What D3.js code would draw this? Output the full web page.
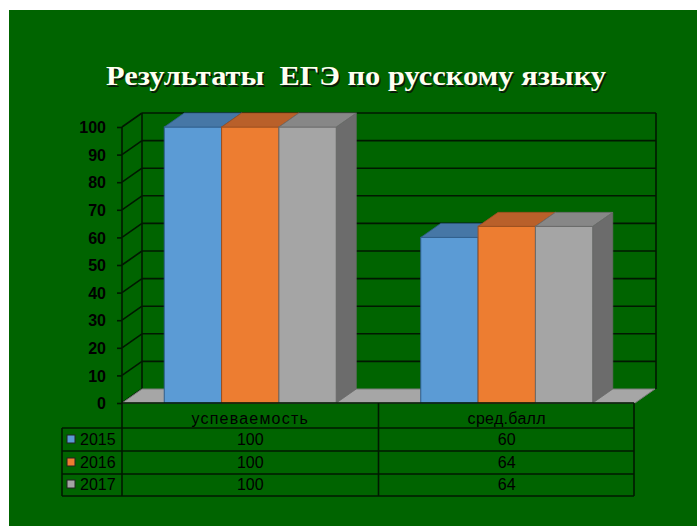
<!DOCTYPE html>
<html><head><meta charset="utf-8">
<script src="https://cdn.jsdelivr.net/npm/d3@7"></script>
<style>html,body{margin:0;padding:0;background:#fff;}svg{display:block;}
.ttl{font-family:"Liberation Serif","Times New Roman",serif;font-weight:bold;font-size:28px;white-space:pre;}
</style>
</head><body>
<svg id="c" width="697" height="526"></svg>
<script>
const categories = ["успеваемость", "сред.балл"];
const years = ["2015", "2016", "2017"];
const values2015 = [100, 60];
const values2016 = [100, 64];
const values2017 = [100, 64];
const yTicks = [0, 10, 20, 30, 40, 50, 60, 70, 80, 90, 100];
const chartTitle = "Результаты  ЕГЭ по русскому языку";

const series = [
  {name: years[0], values: values2015, front: "#5b9bd5", topc: "#4677a6", side: "#3d6a94", stroke: "#2f5d8a"},
  {name: years[1], values: values2016, front: "#ed7d31", topc: "#b9602a", side: "#a35424", stroke: "#9c4f1f"},
  {name: years[2], values: values2017, front: "#a5a5a5", topc: "#878787", side: "#6c6c6c", stroke: "#6a6a6a"}
];

(function () {
const svg = d3.select("#c");
svg.append("rect").attr("x", 9).attr("y", 10).attr("width", 697 - 9).attr("height", 526 - 10).attr("fill", "#006400");

const pLeft = 122, pRight = 635, pBottom = 403, pTop = 127;
const dx = 20, dy = -14;
const y = d3.scaleLinear().domain([0, 100]).range([pBottom, pTop]);
const x0 = d3.scaleBand().domain(categories).range([pLeft, pRight]).paddingInner(0).paddingOuter(0);
const x1 = d3.scaleBand().domain(years).range([0, x0.bandwidth()]).paddingInner(0).paddingOuter(0.737);
const pts = arr => arr.map(p => p.join(",")).join(" ");

const lineCol = "#011801";
const g = svg.append("g");
g.selectAll("line.grid").data(yTicks.filter(d => d > 0)).join("line")
  .attr("x1", pLeft + dx).attr("x2", pRight + dx + 1)
  .attr("y1", d => y(d) + dy).attr("y2", d => y(d) + dy)
  .attr("stroke", lineCol).attr("stroke-width", 1.6);
g.append("line").attr("x1", pRight + dx + 1).attr("x2", pRight + dx + 1).attr("y1", y(100) + dy).attr("y2", pBottom + dy)
  .attr("stroke", lineCol).attr("stroke-width", 1.6);
g.append("line").attr("x1", pLeft + dx).attr("x2", pLeft + dx).attr("y1", y(100) + dy).attr("y2", pBottom + dy)
  .attr("stroke", lineCol).attr("stroke-width", 1.6);
g.selectAll("line.diag").data(yTicks).join("line")
  .attr("x1", pLeft).attr("x2", pLeft + dx)
  .attr("y1", d => y(d)).attr("y2", d => y(d) + dy)
  .attr("stroke", lineCol).attr("stroke-width", 1.6);
g.append("polygon")
  .attr("points", pts([[pLeft, pBottom], [pRight, pBottom], [pRight + dx, pBottom + dy], [pLeft + dx, pBottom + dy]]))
  .attr("fill", "#a6a6a6").attr("stroke", "#7a7a7a").attr("stroke-width", 1);

const axis = d3.axisLeft(y).tickValues(yTicks).tickSize(5).tickPadding(11);
const ag = svg.append("g").attr("transform", `translate(${pLeft},0)`).call(axis);
ag.select(".domain").remove();
ag.append("line").attr("x1", 0).attr("x2", 0).attr("y1", pTop).attr("y2", pBottom).attr("stroke", lineCol).attr("stroke-width", 1.6);
ag.selectAll(".tick line").attr("stroke", lineCol).attr("stroke-width", 1.6);
ag.selectAll(".tick text").attr("fill", "#000").attr("font-family", "Liberation Sans, Arial, sans-serif")
  .attr("font-size", 16).attr("font-weight", "bold").attr("dy", "0.36em");

const bars = svg.append("g");
categories.forEach((cat, ci) => {
  series.forEach(s => {
    const v = s.values[ci];
    const xa = x0(cat) + x1(s.name), xb = xa + x1.bandwidth();
    const yv = y(v);
    bars.append("polygon").attr("points", pts([[xb, yv], [xb + dx, yv + dy], [xb + dx, pBottom + dy], [xb, pBottom]]))
      .attr("fill", s.side).attr("stroke", s.stroke).attr("stroke-width", 0.8);
    bars.append("rect").attr("x", xa).attr("y", yv).attr("width", xb - xa).attr("height", pBottom - yv)
      .attr("fill", s.front).attr("stroke", s.stroke).attr("stroke-width", 1);
    bars.append("polygon").attr("points", pts([[xa, yv], [xa + dx, yv + dy], [xb + dx, yv + dy], [xb, yv]]))
      .attr("fill", s.topc).attr("stroke", s.stroke).attr("stroke-width", 0.8);
  });
});

const rowY = [403, 428, 451, 474, 496];
const tableLeft = 62;
const colX = [pLeft, x0(categories[1]), pRight - 1];
const t = svg.append("g").attr("stroke", "#011801").attr("stroke-width", 1.6);
t.append("line").attr("x1", pLeft).attr("x2", colX[2]).attr("y1", rowY[0]).attr("y2", rowY[0]);
rowY.slice(1).forEach(ry => t.append("line").attr("x1", tableLeft).attr("x2", colX[2]).attr("y1", ry).attr("y2", ry));
colX.forEach(cx => t.append("line").attr("x1", cx).attr("x2", cx).attr("y1", rowY[0]).attr("y2", rowY[4]));
t.append("line").attr("x1", tableLeft).attr("x2", tableLeft).attr("y1", rowY[1]).attr("y2", rowY[4]);

const font = "Liberation Sans, Arial, sans-serif";
categories.forEach((cat, ci) => {
  svg.append("text").attr("x", x0(cat) + x0.bandwidth() / 2).attr("y", 424).attr("text-anchor", "middle")
    .attr("font-family", font).attr("font-size", 16).attr("letter-spacing", ci === 0 ? 1.2 : 0.3).attr("fill", "#000").text(cat);
});
series.forEach((s, si) => {
  const base = [445, 468, 490][si];
  svg.append("rect").attr("x", 67).attr("y", base - 10).attr("width", 8).attr("height", 8)
    .attr("fill", s.front).attr("stroke", "#222").attr("stroke-width", 1);
  svg.append("text").attr("x", 80).attr("y", base).attr("font-family", font).attr("font-size", 16)
    .attr("fill", "#000").text(s.name);
  categories.forEach((cat, ci) => {
    svg.append("text").attr("x", x0(cat) + x0.bandwidth() / 2).attr("y", base).attr("text-anchor", "middle")
      .attr("font-family", font).attr("font-size", 16).attr("fill", "#000").text(s.values[ci]);
  });
});

svg.append("text").attr("class", "ttl").attr("x", 107.5).attr("y", 86.5)
  .attr("textLength", 500).attr("lengthAdjust", "spacingAndGlyphs")
  .attr("fill", "#0a1a0a").text(chartTitle);
svg.append("text").attr("class", "ttl").attr("x", 106).attr("y", 85)
  .attr("textLength", 500).attr("lengthAdjust", "spacingAndGlyphs")
  .attr("fill", "#fffff2").text(chartTitle);
})();
</script>
</body></html>
